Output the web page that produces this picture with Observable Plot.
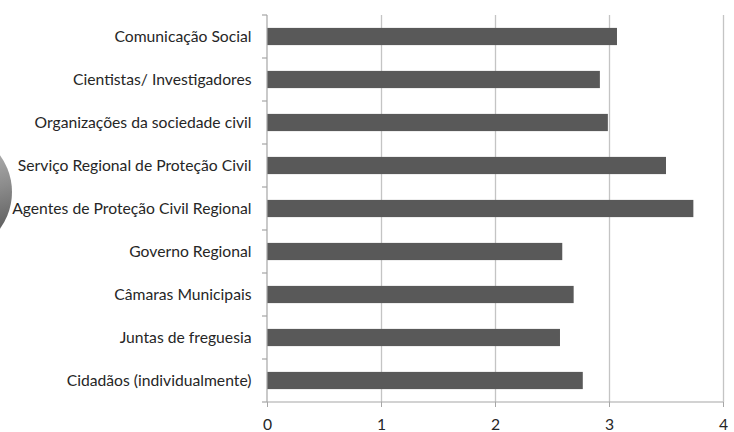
<!DOCTYPE html>
<html>
<head>
<meta charset="utf-8">
<script src="https://cdn.jsdelivr.net/npm/d3@7"></script>
<script src="https://cdn.jsdelivr.net/npm/@observablehq/plot@0.6"></script>
<style>
  html, body { margin: 0; padding: 0; background: #fff; }
  #chart { width: 734px; height: 432px; position: relative; }
</style>
</head>
<body>
<div id="chart"></div>
<script>
// Entities, listed top to bottom
const entities = [
  "Comunicação Social",
  "Cientistas/ Investigadores",
  "Organizações da sociedade civil",
  "Serviço Regional de Proteção Civil",
  "Agentes de Proteção Civil Regional",
  "Governo Regional",
  "Câmaras Municipais",
  "Juntas de freguesia",
  "Cidadãos (individualmente)"
];

// Mean score for each entity
const scores = [3.07, 2.92, 2.99, 3.50, 3.74, 2.59, 2.69, 2.57, 2.77];

// Value axis ticks
const xTicks = [0, 1, 2, 3, 4];

const rows = entities.map((name, i) => ({name, score: scores[i]}));

const fontFamily = "Lato, 'Open Sans', 'DejaVu Sans', sans-serif";
const labelSize = 15.7;
const textColor = "#262626";
const axisGray = "#a6a6a6";

// Axis lines plus the short ticks separating the categories
function axisFrame(index, scales, values, dimensions) {
  const y = scales.y, x = scales.x;
  const bw = y.bandwidth();
  const step = typeof y.step === "function"
    ? y.step()
    : (dimensions.height - dimensions.marginTop - dimensions.marginBottom) / entities.length;
  const half = (step - bw) / 2;
  const bounds = entities.map(n => y(n) - half);
  bounds.push(y(entities[entities.length - 1]) + bw + half);
  const x0 = x(0);
  const g = d3.create("svg:g")
    .attr("stroke", axisGray)
    .attr("stroke-width", 1.2)
    .attr("fill", "none");
  g.selectAll("line.sep").data(bounds).join("line")
    .attr("x1", x0 - 5).attr("x2", x0)
    .attr("y1", d => d).attr("y2", d => d);
  g.append("line")
    .attr("x1", x0).attr("x2", x0)
    .attr("y1", bounds[0]).attr("y2", bounds[bounds.length - 1]);
  g.append("line")
    .attr("x1", x0).attr("x2", x(xTicks[xTicks.length - 1]))
    .attr("y1", bounds[bounds.length - 1]).attr("y2", bounds[bounds.length - 1]);
  return g.node();
}

const plot = Plot.plot({
  width: 734,
  height: 432,
  marginLeft: 267,
  marginRight: 11,
  marginTop: 15,
  marginBottom: 30,
  style: {fontFamily, fontSize: labelSize + "px", color: textColor, background: "#fff"},
  x: {domain: [0, 4], ticks: xTicks},
  y: {domain: entities, paddingInner: 0.6, paddingOuter: 0.3, round: false},
  marks: [
    Plot.gridX(xTicks.slice(1), {stroke: "#c4c4c4", strokeOpacity: 1, strokeWidth: 1.3}),
    Plot.barX(rows, {x: "score", y: "name", fill: "#595959"}),
    axisFrame,
    Plot.axisX({ticks: xTicks, tickFormat: "d", tickSize: 5, tickPadding: 11, stroke: axisGray, fill: textColor, fontSize: labelSize, label: null}),
    Plot.axisY({tickSize: 0, tickPadding: 16, fill: textColor, fontSize: labelSize, label: null})
  ]
});

// decorative shaded disc at the left edge
const svg = d3.select(plot);
const defs = svg.insert("defs", ":first-child");
const grad = defs.append("linearGradient")
  .attr("id", "discShade").attr("x1", "0.6").attr("y1", "0").attr("x2", "0.9").attr("y2", "1");
grad.append("stop").attr("offset", "0").attr("stop-color", "#c8c8c8");
grad.append("stop").attr("offset", "0.5").attr("stop-color", "#8c8c8c");
grad.append("stop").attr("offset", "1").attr("stop-color", "#474747");
svg.insert("circle", "defs + *")
  .attr("cx", -50).attr("cy", 192).attr("r", 62)
  .attr("fill", "url(#discShade)");

document.getElementById("chart").append(plot);
</script>
</body>
</html>
